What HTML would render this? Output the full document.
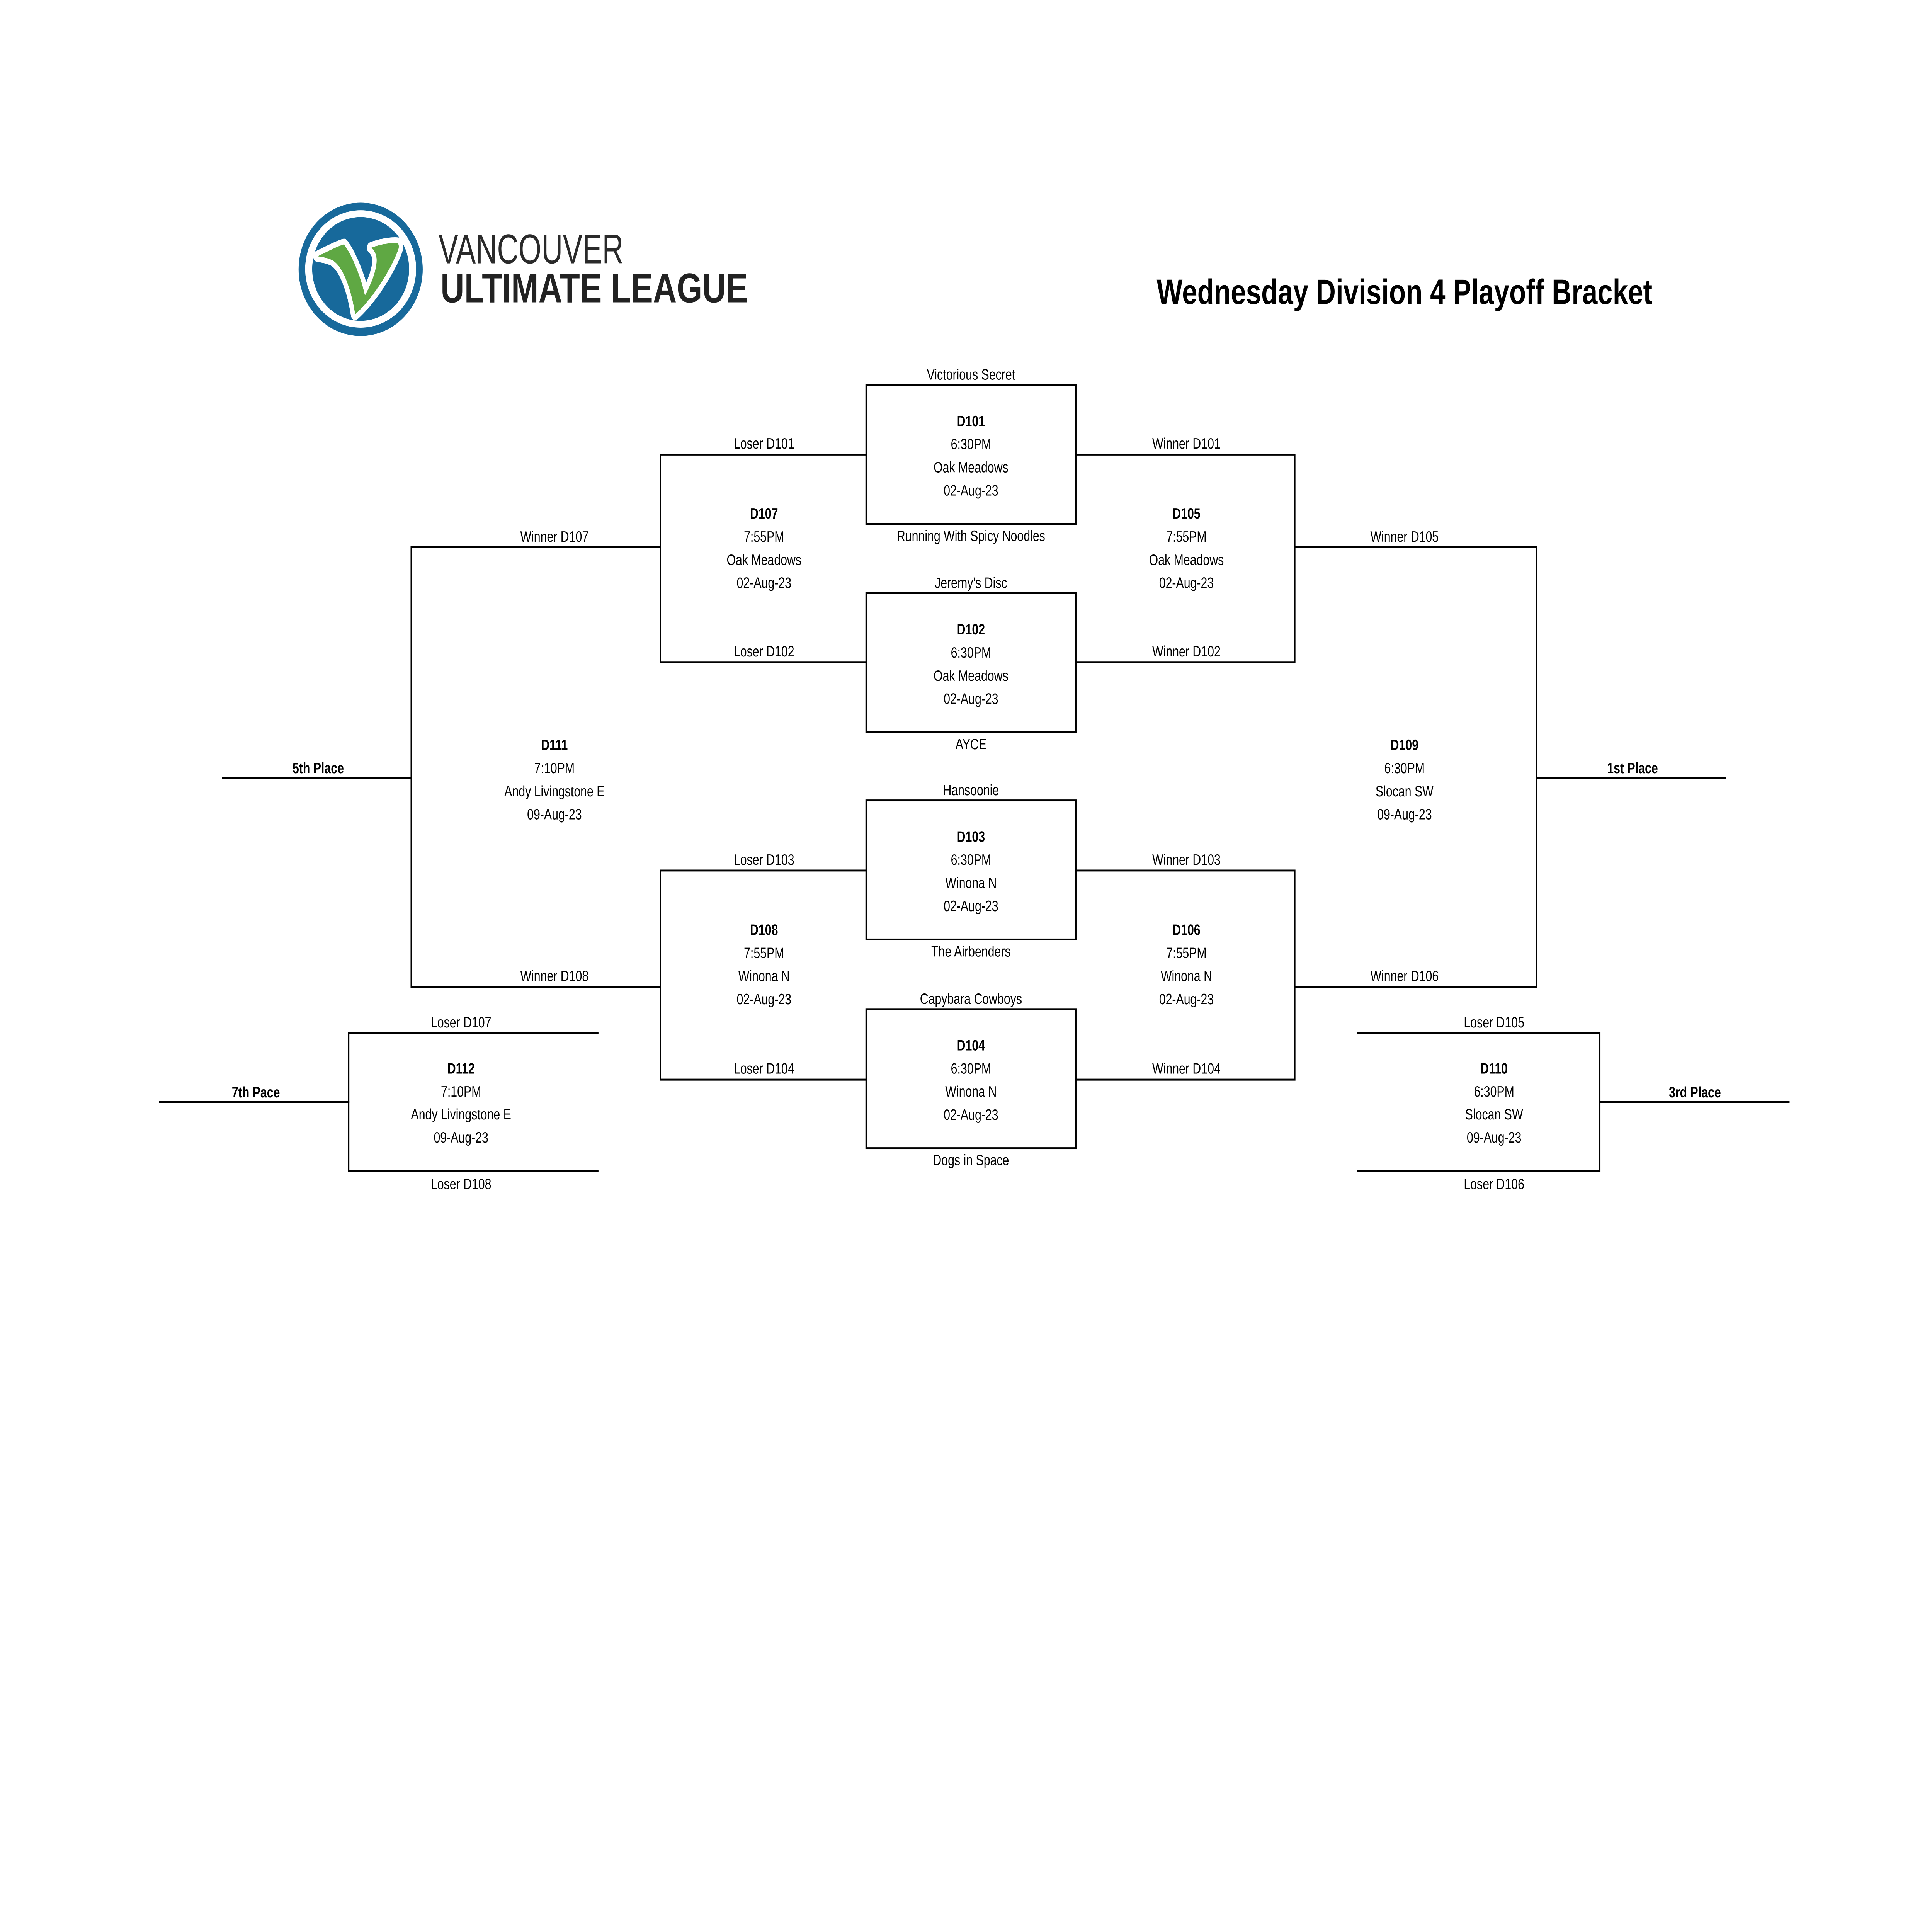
<!DOCTYPE html>
<html>
<head>
<meta charset="utf-8">
<meta name="viewport" content="width=6600, initial-scale=1">
<style>
  html, body { margin: 0; padding: 0; background: #ffffff; width: 100%; height: 100%; overflow: hidden; }
  svg { display: block; position: absolute; left: 0; top: 0; width: 100vw; height: 100vh; }
  .t { font-family: "Liberation Sans", Arial, sans-serif; font-size: 40px; fill: #000; text-anchor: middle; }
  .b { font-weight: bold; }
  .ln { fill: none; stroke: #000; stroke-width: 5; stroke-linecap: square; stroke-linejoin: miter; }
</style>
</head>
<body>
<svg viewBox="0 0 6600 5100" preserveAspectRatio="none" xmlns="http://www.w3.org/2000/svg">
  <rect x="0" y="0" width="6600" height="5100" fill="#ffffff"/>

  <!-- Logo -->
  <ellipse cx="1232" cy="711" rx="212" ry="176" fill="#17699b"/>
  <ellipse cx="1232" cy="710" rx="189.5" ry="155" fill="#ffffff"/>
  <ellipse cx="1232" cy="710" rx="165.5" ry="137" fill="#17699b"/>
  <g transform="translate(1020,530) scale(0.33333)">
    <path d="M195,440 C300,400 400,360 465,345 C540,420 640,600 680,750 C730,680 800,560 800,470 C800,420 770,390 745,372 C830,345 950,330 1015,335 C1030,345 1030,370 1020,390 C960,520 780,760 580,900 C540,700 450,500 330,465 C280,450 230,442 195,440 Z"
          fill="#ffffff" stroke="#ffffff" stroke-width="90" stroke-linejoin="round"/>
    <path d="M195,440 C300,400 400,360 465,345 C540,420 640,600 680,750 C730,680 800,560 800,470 C800,420 770,390 745,372 C830,345 950,330 1015,335 C1030,345 1030,370 1020,390 C960,520 780,760 580,900 C540,700 450,500 330,465 C280,450 230,442 195,440 Z"
          fill="#5fa843"/>
  </g>
  <text x="1498" y="695" font-family="Liberation Sans, Arial, sans-serif" font-size="110" fill="#2a2a2a" textLength="632" lengthAdjust="spacingAndGlyphs">VANCOUVER</text>
  <text x="1505" y="798" font-family="Liberation Sans, Arial, sans-serif" font-size="110" font-weight="bold" fill="#222222" textLength="1050" lengthAdjust="spacingAndGlyphs">ULTIMATE LEAGUE</text>

  <!-- Title -->
  <text x="4798" y="802" font-family="Liberation Sans, Arial, sans-serif" font-size="93" font-weight="bold" fill="#000" text-anchor="middle" textLength="1693" lengthAdjust="spacingAndGlyphs">Wednesday Division 4 Playoff Bracket</text>

  <!-- Center boxes -->
  <rect class="ln" x="2959" y="1016" width="716" height="367"/>
  <rect class="ln" x="2959" y="1566" width="716" height="367"/>
  <rect class="ln" x="2959" y="2113" width="716" height="367"/>
  <rect class="ln" x="2959" y="2664" width="716" height="367"/>

  <!-- Brackets -->
  <path class="ln" d="M2959,1200 H2256 V1748 H2959"/>
  <path class="ln" d="M2256,1444 H1405"/>
  <path class="ln" d="M3675,1200 H4423 V1748 H3675"/>
  <path class="ln" d="M4423,1444 H5249"/>
  <path class="ln" d="M2959,2298 H2256 V2850 H2959"/>
  <path class="ln" d="M2256,2605 H1405"/>
  <path class="ln" d="M3675,2298 H4423 V2850 H3675"/>
  <path class="ln" d="M4423,2605 H5249"/>
  <path class="ln" d="M1405,1444 V2605"/>
  <path class="ln" d="M761,2054 H1405"/>
  <path class="ln" d="M5249,1444 V2605"/>
  <path class="ln" d="M5249,2054 H5895"/>
  <path class="ln" d="M2042,2726 H1191 V3092 H2042"/>
  <path class="ln" d="M546,2909 H1191"/>
  <path class="ln" d="M4638,2726 H5465 V3092 H4638"/>
  <path class="ln" d="M5465,2909 H6111"/>

  <!-- Center column texts -->
  <text class="t" x="3317" y="1002">Victorious Secret</text>
  <text class="t b" x="3317" y="1125">D101</text>
  <text class="t" x="3317" y="1186">6:30PM</text>
  <text class="t" x="3317" y="1247">Oak Meadows</text>
  <text class="t" x="3317" y="1308">02-Aug-23</text>
  <text class="t" x="3317" y="1428">Running With Spicy Noodles</text>

  <text class="t" x="3317" y="1552">Jeremy's Disc</text>
  <text class="t b" x="3317" y="1675">D102</text>
  <text class="t" x="3317" y="1736">6:30PM</text>
  <text class="t" x="3317" y="1797">Oak Meadows</text>
  <text class="t" x="3317" y="1858">02-Aug-23</text>
  <text class="t" x="3317" y="1978">AYCE</text>

  <text class="t" x="3317" y="2099">Hansoonie</text>
  <text class="t b" x="3317" y="2222">D103</text>
  <text class="t" x="3317" y="2283">6:30PM</text>
  <text class="t" x="3317" y="2344">Winona N</text>
  <text class="t" x="3317" y="2405">02-Aug-23</text>
  <text class="t" x="3317" y="2525">The Airbenders</text>

  <text class="t" x="3317" y="2650">Capybara Cowboys</text>
  <text class="t b" x="3317" y="2773">D104</text>
  <text class="t" x="3317" y="2834">6:30PM</text>
  <text class="t" x="3317" y="2895">Winona N</text>
  <text class="t" x="3317" y="2956">02-Aug-23</text>
  <text class="t" x="3317" y="3076">Dogs in Space</text>

  <!-- Left inner column -->
  <text class="t" x="2610" y="1184">Loser D101</text>
  <text class="t b" x="2610" y="1369">D107</text>
  <text class="t" x="2610" y="1430">7:55PM</text>
  <text class="t" x="2610" y="1491">Oak Meadows</text>
  <text class="t" x="2610" y="1552">02-Aug-23</text>
  <text class="t" x="2610" y="1733">Loser D102</text>

  <text class="t" x="2610" y="2283">Loser D103</text>
  <text class="t b" x="2610" y="2468">D108</text>
  <text class="t" x="2610" y="2529">7:55PM</text>
  <text class="t" x="2610" y="2590">Winona N</text>
  <text class="t" x="2610" y="2651">02-Aug-23</text>
  <text class="t" x="2610" y="2834">Loser D104</text>

  <!-- Right inner column -->
  <text class="t" x="4053" y="1184">Winner D101</text>
  <text class="t b" x="4053" y="1369">D105</text>
  <text class="t" x="4053" y="1430">7:55PM</text>
  <text class="t" x="4053" y="1491">Oak Meadows</text>
  <text class="t" x="4053" y="1552">02-Aug-23</text>
  <text class="t" x="4053" y="1733">Winner D102</text>

  <text class="t" x="4053" y="2283">Winner D103</text>
  <text class="t b" x="4053" y="2468">D106</text>
  <text class="t" x="4053" y="2529">7:55PM</text>
  <text class="t" x="4053" y="2590">Winona N</text>
  <text class="t" x="4053" y="2651">02-Aug-23</text>
  <text class="t" x="4053" y="2834">Winner D104</text>

  <!-- Left outer column (D111) -->
  <text class="t" x="1894" y="1430">Winner D107</text>
  <text class="t b" x="1894" y="1980">D111</text>
  <text class="t" x="1894" y="2041">7:10PM</text>
  <text class="t" x="1894" y="2102">Andy Livingstone E</text>
  <text class="t" x="1894" y="2163">09-Aug-23</text>
  <text class="t" x="1894" y="2590">Winner D108</text>

  <!-- Right outer column (D109) -->
  <text class="t" x="4798" y="1430">Winner D105</text>
  <text class="t b" x="4798" y="1980">D109</text>
  <text class="t" x="4798" y="2041">6:30PM</text>
  <text class="t" x="4798" y="2102">Slocan SW</text>
  <text class="t" x="4798" y="2163">09-Aug-23</text>
  <text class="t" x="4798" y="2590">Winner D106</text>

  <!-- Places -->
  <text class="t b" x="1087" y="2041">5th Place</text>
  <text class="t b" x="5577" y="2041">1st Place</text>
  <text class="t b" x="874" y="2897">7th Pace</text>
  <text class="t b" x="5790" y="2897">3rd Place</text>

  <!-- D112 -->
  <text class="t" x="1575" y="2712">Loser D107</text>
  <text class="t b" x="1575" y="2834">D112</text>
  <text class="t" x="1575" y="2895">7:10PM</text>
  <text class="t" x="1575" y="2955">Andy Livingstone E</text>
  <text class="t" x="1575" y="3016">09-Aug-23</text>
  <text class="t" x="1575" y="3139">Loser D108</text>

  <!-- D110 -->
  <text class="t" x="5104" y="2712">Loser D105</text>
  <text class="t b" x="5104" y="2834">D110</text>
  <text class="t" x="5104" y="2895">6:30PM</text>
  <text class="t" x="5104" y="2955">Slocan SW</text>
  <text class="t" x="5104" y="3016">09-Aug-23</text>
  <text class="t" x="5104" y="3139">Loser D106</text>
</svg>
</body>
</html>
